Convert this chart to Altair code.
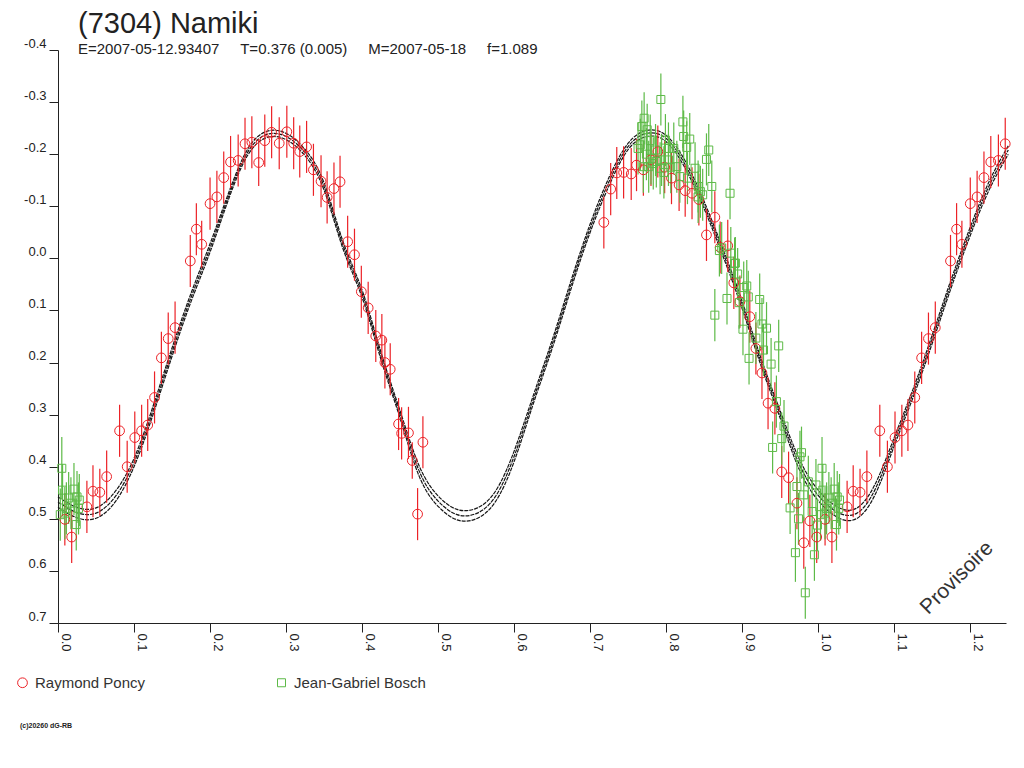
import altair as alt
import pandas as pd

NB = "\u00a0"
TITLE = "(7304) Namiki"
SUBTITLE = ("E=2007-05-12.93407" + NB * 5 + "T=0.376 (0.005)" + NB * 5 +
            "M=2007-05-18" + NB * 5 + "f=1.089")
OBSERVERS = ["Raymond Poncy", "Jean-Gabriel Bosch"]
COLORS = ["#ec2227", "#5dba47"]

red_phase = [0.009, 0.018, 0.038, 0.046, 0.055, 0.064, 0.081, 0.091, 0.101, 0.110,
             0.118, 0.127, 0.136, 0.145, 0.154, 0.174, 0.182, 0.189, 0.200, 0.209,
             0.218, 0.227, 0.237, 0.246, 0.255, 0.264, 0.272, 0.281, 0.291, 0.301,
             0.310, 0.318, 0.327, 0.336, 0.346, 0.354, 0.363, 0.371, 0.381, 0.390,
             0.399, 0.408, 0.418, 0.426, 0.430, 0.437, 0.448, 0.452, 0.461, 0.466,
             0.473, 0.480,
             0.718, 0.727, 0.735, 0.744, 0.754, 0.761, 0.770, 0.780, 0.789, 0.798,
             0.807, 0.817, 0.825, 0.834, 0.843, 0.853, 0.864, 0.871, 0.881, 0.889,
             0.897, 0.910, 0.918, 0.926, 0.934, 0.943, 0.952, 0.961, 0.972, 0.981,
             0.989, 0.998]
red_mag = [0.501, 0.535, 0.477, 0.447, 0.449, 0.419, 0.331, 0.400, 0.344, 0.331,
           0.320, 0.267, 0.191, 0.154, 0.133, 0.005, -0.056, -0.027, -0.105, -0.118,
           -0.155, -0.185, -0.188, -0.220, -0.223, -0.184, -0.226, -0.242, -0.221, -0.243,
           -0.221, -0.205, -0.214, -0.170, -0.148, -0.117, -0.134, -0.147, -0.032, -0.007,
           0.064, 0.095, 0.149, 0.157, 0.200, 0.213, 0.318, 0.336, 0.335, 0.388,
           0.491, 0.353,
           -0.069, -0.133, -0.164, -0.165, -0.162, -0.179, -0.170, -0.189, -0.205, -0.175,
           -0.154, -0.141, -0.130, -0.125, -0.113, -0.045, -0.079, -0.021, -0.024, 0.047,
           0.083, 0.112, 0.173, 0.220, 0.278, 0.288, 0.410, 0.421, 0.470, 0.546,
           0.504, 0.535]
red_err = [0.050, 0.050, 0.050, 0.050, 0.045, 0.050, 0.050, 0.050, 0.050, 0.050,
           0.050, 0.050, 0.050, 0.050, 0.050, 0.050, 0.050, 0.045, 0.050, 0.050,
           0.050, 0.050, 0.050, 0.050, 0.050, 0.045, 0.050, 0.050, 0.050, 0.050,
           0.050, 0.050, 0.050, 0.050, 0.050, 0.050, 0.050, 0.050, 0.050, 0.050,
           0.050, 0.050, 0.050, 0.050, 0.050, 0.050, 0.050, 0.050, 0.050, 0.035,
           0.050, 0.050,
           0.050, 0.050, 0.050, 0.050, 0.050, 0.050, 0.050, 0.050, 0.050, 0.050,
           0.050, 0.050, 0.050, 0.050, 0.050, 0.050, 0.050, 0.050, 0.050, 0.050,
           0.050, 0.050, 0.050, 0.050, 0.050, 0.050, 0.050, 0.050, 0.050, 0.050,
           0.050, 0.050]

green_phase = [0.003, 0.005, 0.006, 0.009, 0.011, 0.014, 0.017, 0.021, 0.024, 0.025,
               0.027, 0.028,
               0.763, 0.766, 0.768, 0.770, 0.771, 0.774, 0.775, 0.777, 0.779, 0.780,
               0.783, 0.786, 0.787, 0.792, 0.793, 0.794, 0.797, 0.799, 0.803, 0.803,
               0.806, 0.810, 0.814, 0.818, 0.822, 0.823, 0.827, 0.828, 0.831, 0.838,
               0.842, 0.842, 0.845, 0.848, 0.853, 0.856, 0.860, 0.884,
               0.864, 0.870, 0.873, 0.880, 0.885, 0.890, 0.891, 0.894, 0.896, 0.901,
               0.902, 0.906, 0.908, 0.909, 0.918, 0.923, 0.926, 0.928, 0.932, 0.938,
               0.945, 0.948, 0.955,
               0.940, 0.952, 0.963, 0.970, 0.972, 0.974, 0.976, 0.978, 0.981, 0.983,
               0.987, 0.992, 0.995, 0.997, 0.999]
green_mag = [0.492, 0.403, 0.445, 0.489, 0.480, 0.460, 0.470, 0.443, 0.511, 0.458,
             0.480, 0.464,
             -0.211, -0.218, -0.253, -0.176, -0.269, -0.200, -0.247, -0.176, -0.226, -0.192,
             -0.182, -0.208, -0.186, -0.173, -0.305, -0.189, -0.165, -0.227, -0.189, -0.211,
             -0.175, -0.211, -0.176, -0.157, -0.262, -0.234, -0.213, -0.154, -0.229, -0.173,
             -0.138, -0.118, -0.128, -0.122, -0.190, -0.208, -0.138, -0.125,
             0.109, -0.015, -0.020, 0.077, -0.010, 0.010, 0.009, 0.030, 0.085, 0.136,
             0.056, 0.053, 0.074, 0.192, 0.153, 0.079, 0.126, 0.176, 0.134, 0.203,
             0.275, 0.168, 0.322,
             0.363, 0.346, 0.479, 0.565, 0.438, 0.500, 0.381, 0.373, 0.454, 0.642,
             0.429, 0.486, 0.569, 0.435, 0.512]
green_err = [0.050, 0.060, 0.050, 0.050, 0.050, 0.050, 0.050, 0.050, 0.050, 0.050,
             0.050, 0.050,
             0.050, 0.050, 0.050, 0.050, 0.050, 0.050, 0.050, 0.050, 0.050, 0.050,
             0.050, 0.050, 0.050, 0.050, 0.050, 0.050, 0.050, 0.050, 0.050, 0.050,
             0.050, 0.050, 0.050, 0.050, 0.050, 0.050, 0.050, 0.050, 0.050, 0.050,
             0.050, 0.050, 0.050, 0.050, 0.050, 0.050, 0.050, 0.050,
             0.050, 0.050, 0.050, 0.050, 0.050, 0.050, 0.050, 0.050, 0.050, 0.050,
             0.050, 0.050, 0.050, 0.050, 0.050, 0.050, 0.050, 0.050, 0.050, 0.050,
             0.050, 0.050, 0.050,
             0.050, 0.050, 0.050, 0.056, 0.050, 0.050, 0.050, 0.050, 0.050, 0.050,
             0.050, 0.050, 0.050, 0.050, 0.050]

fit_phase = [0.000, 0.025, 0.050, 0.075, 0.100, 0.125, 0.150, 0.175, 0.200, 0.225,
             0.250, 0.275, 0.300, 0.325, 0.350, 0.375, 0.400, 0.425, 0.450, 0.475,
             0.500, 0.525, 0.550, 0.575, 0.600, 0.625, 0.650, 0.675, 0.700, 0.725,
             0.750, 0.775, 0.800, 0.825, 0.850, 0.875, 0.900, 0.925, 0.950, 0.975,
             1.000, 1.025, 1.050, 1.075, 1.100, 1.125, 1.150, 1.175, 1.200, 1.225,
             1.250]
fit_mid = [0.468, 0.488, 0.489, 0.458, 0.392, 0.292, 0.180, 0.075, -0.020, -0.122,
           -0.205, -0.238, -0.234, -0.203, -0.138, -0.025, 0.068, 0.188, 0.300, 0.408,
           0.466, 0.492, 0.490, 0.458, 0.380, 0.272, 0.165, 0.050, -0.058, -0.148,
           -0.215, -0.240, -0.230, -0.180, -0.102, -0.010, 0.090, 0.200, 0.300, 0.395,
           0.455, 0.487, 0.490, 0.443, 0.352, 0.258, 0.155, 0.048, -0.052, -0.140,
           -0.208]
fit_spread = [0.010, 0.010, 0.010, 0.010, 0.008, 0.008, 0.008, 0.008, 0.008, 0.006,
              0.006, 0.006, 0.006, 0.006, 0.007, 0.007, 0.007, 0.007, 0.007, 0.010,
              0.010, 0.010, 0.010, 0.010, 0.010, 0.008, 0.008, 0.008, 0.008, 0.008,
              0.006, 0.006, 0.006, 0.007, 0.007, 0.007, 0.007, 0.007, 0.007, 0.010,
              0.010, 0.010, 0.010, 0.010, 0.008, 0.008, 0.008, 0.008, 0.008, 0.008,
              0.008]

x_ticks = [0.0, 0.05, 0.1, 0.15, 0.2, 0.25, 0.3, 0.35, 0.4, 0.45, 0.5, 0.55, 0.6,
           0.65, 0.7, 0.75, 0.8, 0.85, 0.9, 0.95, 1.0, 1.05, 1.1, 1.15, 1.2]
y_ticks = [-0.4, -0.3, -0.2, -0.1, 0.0, 0.1, 0.2, 0.3, 0.4, 0.5, 0.6, 0.7]

# ---- tables (phase < 0.25 repeated after 1.0, as in the original plot) ----
rows = []
for obs, ph, mg, er in [(OBSERVERS[0], red_phase, red_mag, red_err),
                        (OBSERVERS[1], green_phase, green_mag, green_err)]:
    for p, m, e in zip(ph, mg, er):
        rows.append(dict(observer=obs, phase=p, mag=m, lo=m - e, hi=m + e))
        if p < 0.25:
            rows.append(dict(observer=obs, phase=p + 1.0, mag=m, lo=m - e, hi=m + e))
obs_df = pd.DataFrame(rows)

crow = []
for p, m, s in zip(fit_phase, fit_mid, fit_spread):
    crow.append(dict(curve="a", phase=p, mag=m - s))
    crow.append(dict(curve="b", phase=p, mag=m))
    crow.append(dict(curve="c", phase=p, mag=m + s))
fit_df = pd.DataFrame(crow)

FONT = "Liberation Sans"
MINUS = chr(0x2212)

x_enc = alt.X("phase:Q",
              scale=alt.Scale(domain=[0, 1.247], nice=False, zero=False),
              axis=alt.Axis(values=x_ticks, title=None, grid=False,
                            labelExpr="abs(round(datum.value*100) % 10) < 0.5 ? format(datum.value, '.1f') : ''",
                            labelAngle=90, labelAlign="left", labelBaseline="bottom",
                            labelPadding=1, tickSize=9, labelOverlap=False, labelFlush=False,
                            labelFont=FONT, labelFontSize=13, labelColor="#222",
                            domainColor="#222", tickColor="#222"))
y_scale = alt.Scale(domain=[-0.4, 0.7], reverse=True, nice=False, zero=False)
y_enc = alt.Y("mag:Q", scale=y_scale,
              axis=alt.Axis(values=y_ticks, title=None, grid=False,
                            labelExpr=f"replace(format(datum.value, '.1f'), '{MINUS}', '-')",
                            labelBaseline="bottom", labelPadding=3, tickSize=9,
                            labelOverlap=False, labelFlush=False,
                            labelFont=FONT, labelFontSize=13, labelColor="#222",
                            domainColor="#222", tickColor="#222"))

color_scale = alt.Scale(domain=OBSERVERS, range=COLORS)
legend = alt.Legend(title=None, orient="none", legendX=-43, legendY=625,
                    direction="horizontal", columns=2, columnPadding=128,
                    labelFont=FONT, labelFontSize=15, labelColor="#333",
                    symbolSize=95, symbolStrokeWidth=1, labelOffset=5)

curves = alt.Chart(fit_df).mark_line(
    color="#161616", strokeWidth=1.2, strokeDash=[4, 1], interpolate="natural"
).encode(x=x_enc, y=y_enc, detail="curve:N")

bars = alt.Chart(obs_df).mark_rule(strokeWidth=1.2).encode(
    x="phase:Q",
    y=alt.Y("lo:Q", scale=y_scale),
    y2="hi:Q",
    color=alt.Color("observer:N", scale=color_scale, legend=None),
)

points = alt.Chart(obs_df).mark_point(filled=False, strokeWidth=1, opacity=1).encode(
    x="phase:Q",
    y=alt.Y("mag:Q", scale=y_scale),
    color=alt.Color("observer:N", scale=color_scale, legend=legend),
    shape=alt.Shape("observer:N", scale=alt.Scale(domain=OBSERVERS, range=["circle", "square"]),
                    legend=legend),
    size=alt.Size("observer:N", scale=alt.Scale(domain=OBSERVERS, range=[95, 64]), legend=None),
)

watermark = alt.Chart(pd.DataFrame({"t": ["Provisoire"]})).mark_text(
    font=FONT, fontSize=21, color="#333", angle=315, align="center", baseline="middle"
).encode(text="t:N", x=alt.value(899), y=alt.value(528))

copyright_txt = alt.Chart(pd.DataFrame({"t": ["(c)20260 dG-RB"]})).mark_text(
    font=FONT, fontSize=7, fontWeight="bold", color="#222", align="left", baseline="middle"
).encode(text="t:N", x=alt.value(-38), y=alt.value(676))

chart = alt.layer(curves, bars, points, watermark, copyright_txt).resolve_legend(
    color="independent", shape="independent", size="independent"
).properties(
    width=948, height=573,
    title=alt.TitleParams(text=TITLE, subtitle=SUBTITLE, anchor="start", frame="group",
                          dx=20, offset=-20, font=FONT, fontSize=29, fontWeight="normal",
                          color="#222", subtitleFont=FONT, subtitleFontSize=15,
                          subtitleColor="#222", subtitlePadding=3),
    autosize=alt.AutoSizeParams(type="none"),
    padding={"left": 50, "top": 42, "right": 10, "bottom": 110},
).configure_view(stroke=None).configure_axis(domainWidth=1, tickWidth=1)

chart.save("out.html", embed_options={"renderer": "svg", "actions": False})
